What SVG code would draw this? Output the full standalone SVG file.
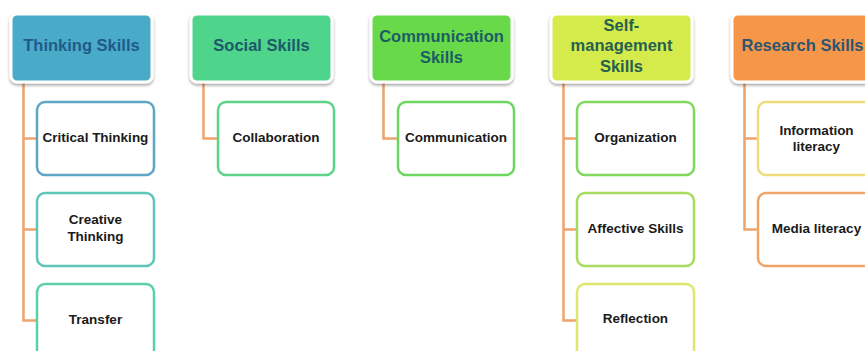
<svg xmlns="http://www.w3.org/2000/svg" width="865" height="351" viewBox="0 0 865 351">
<defs>
<filter id="sh" x="-10%" y="-10%" width="120%" height="130%">
<feGaussianBlur in="SourceAlpha" stdDeviation="1.5"/>
<feOffset dx="0" dy="1.5" result="b"/>
<feComponentTransfer><feFuncA type="linear" slope="0.35"/></feComponentTransfer>
<feMerge><feMergeNode/><feMergeNode in="SourceGraphic"/></feMerge>
</filter>
</defs>
<style>
.hd{stroke:#ffffff;stroke-width:3;filter:url(#sh)}
.ht{font-family:"Liberation Sans",Arial,sans-serif;font-weight:bold;font-size:16.5px;text-anchor:middle}
.ch{fill:#ffffff;stroke-width:2.5}
.ct{font-family:"Liberation Sans",Arial,sans-serif;font-weight:bold;font-size:13.5px;text-anchor:middle;fill:#1a1a1a}
.cn{fill:none;stroke:#eda46c;stroke-width:2.5}
</style>
<rect width="865" height="351" fill="#ffffff"/>
<g id="connectors">
<path class="cn" d="M23.5 82 V320.5 H37 M23.5 138.5 H37 M23.5 229.5 H37"/>
<path class="cn" d="M203.5 82 V138.5 H218"/>
<path class="cn" d="M383.5 82 V138.5 H398"/>
<path class="cn" d="M563.5 82 V320.5 H577 M563.5 138.5 H577 M563.5 229.5 H577"/>
<path class="cn" d="M744.5 82 V229.5 H758 M744.5 138.5 H758"/>
</g>
<g id="thinking">
<rect class="hd" x="11" y="14" width="141" height="68" rx="6" fill="#4aabc7"/>
<text class="ht" x="81.5" y="51" fill="#1e5b8c">Thinking Skills</text>
</g>
<g id="social">
<rect class="hd" x="191" y="14" width="141" height="68" rx="6" fill="#4fd48c"/>
<text class="ht" x="261.5" y="51" fill="#1c5a6a">Social Skills</text>
</g>
<g id="communication">
<rect class="hd" x="371" y="14" width="141" height="68" rx="6" fill="#68da48"/>
<text class="ht" x="441.5" y="42" fill="#1d5c64">Communication</text>
<text class="ht" x="441.5" y="63" fill="#1d5c64">Skills</text>
</g>
<g id="selfmanagement">
<rect class="hd" x="551" y="14" width="141" height="68" rx="6" fill="#d5ea4c"/>
<text class="ht" x="621.5" y="31" fill="#26604f">Self-</text>
<text class="ht" x="621.5" y="51" fill="#26604f">management</text>
<text class="ht" x="621.5" y="72" fill="#26604f">Skills</text>
</g>
<g id="research">
<rect class="hd" x="732" y="14" width="141" height="68" rx="6" fill="#f5964a"/>
<text class="ht" x="802.5" y="51" fill="#2c5670">Research Skills</text>
</g>
<g id="critical">
<rect class="ch" x="37" y="102" width="117" height="73" rx="8" stroke="#5fa6c2"/>
<text class="ct" x="95.5" y="142">Critical Thinking</text>
</g>
<g id="creative">
<rect class="ch" x="37" y="193" width="117" height="73" rx="8" stroke="#5ec6b8"/>
<text class="ct" x="95.5" y="224">Creative</text>
<text class="ct" x="95.5" y="241">Thinking</text>
</g>
<g id="transfer">
<rect class="ch" x="37" y="284" width="117" height="80" rx="8" stroke="#5cd0a8"/>
<text class="ct" x="95.5" y="324">Transfer</text>
</g>
<g id="collaboration">
<rect class="ch" x="218" y="102" width="116" height="73" rx="8" stroke="#5dd48a"/>
<text class="ct" x="276" y="142">Collaboration</text>
</g>
<g id="communication-child">
<rect class="ch" x="398" y="102" width="116" height="73" rx="8" stroke="#6cd660"/>
<text class="ct" x="456" y="142">Communication</text>
</g>
<g id="organization">
<rect class="ch" x="577" y="102" width="117" height="73" rx="8" stroke="#80d85c"/>
<text class="ct" x="635.5" y="142">Organization</text>
</g>
<g id="affective">
<rect class="ch" x="577" y="193" width="117" height="73" rx="8" stroke="#a8dc5e"/>
<text class="ct" x="635.5" y="233">Affective Skills</text>
</g>
<g id="reflection">
<rect class="ch" x="577" y="284" width="117" height="80" rx="8" stroke="#dde86c"/>
<text class="ct" x="635.5" y="323">Reflection</text>
</g>
<g id="information">
<rect class="ch" x="758" y="102" width="117" height="73" rx="8" stroke="#eedb7a"/>
<text class="ct" x="816.5" y="135">Information</text>
<text class="ct" x="816.5" y="151">literacy</text>
</g>
<g id="media">
<rect class="ch" x="758" y="193" width="117" height="73" rx="8" stroke="#f0a466"/>
<text class="ct" x="816.5" y="233">Media literacy</text>
</g>
</svg>
